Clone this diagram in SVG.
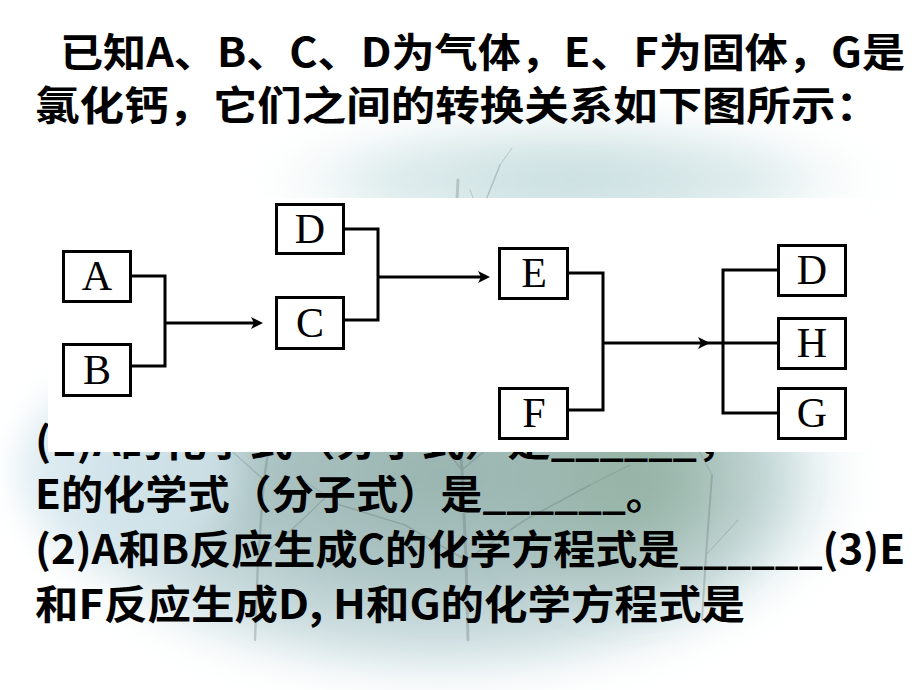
<svg xmlns="http://www.w3.org/2000/svg" width="920" height="690" viewBox="0 0 920 690">
  <defs>
    <style>
      .t { font-family: "Noto Sans CJK SC", "Noto Sans", sans-serif; font-weight: 700; font-size: 40px; fill: #000; }
      .box { fill: #fff; stroke: #000; stroke-width: 3; }
      .lbl { font-family: "Liberation Serif", serif; font-size: 42px; fill: #000; text-anchor: middle; }
      .ln { fill: none; stroke: #000; stroke-width: 3; }
      .tree { fill: none; stroke: #62706f; stroke-linecap: round; }
    </style>
    <radialGradient id="bgMain" cx="0.5" cy="0.5" r="0.5">
      <stop offset="0" stop-color="#98b3ae"/>
      <stop offset="0.45" stop-color="#adc5c5"/>
      <stop offset="0.8" stop-color="#d6e5e8"/>
      <stop offset="1" stop-color="#ffffff" stop-opacity="0"/>
    </radialGradient>
    <radialGradient id="bgTop" cx="0.5" cy="0.5" r="0.5">
      <stop offset="0" stop-color="#c6dcde"/>
      <stop offset="0.6" stop-color="#e0edee"/>
      <stop offset="1" stop-color="#ffffff" stop-opacity="0"/>
    </radialGradient>
    <radialGradient id="bgGreen" cx="0.5" cy="0.5" r="0.5">
      <stop offset="0" stop-color="#8cac99" stop-opacity="0.8"/>
      <stop offset="1" stop-color="#8cac99" stop-opacity="0"/>
    </radialGradient>
    <filter id="soft" x="-20%" y="-20%" width="140%" height="140%">
      <feGaussianBlur stdDeviation="18"/>
    </filter>
    <filter id="tb" x="-10%" y="-10%" width="120%" height="120%">
      <feGaussianBlur stdDeviation="0.7"/>
    </filter>
    <clipPath id="outsidePanel">
      <path d="M0 0 H920 V690 H0 Z M48 198 V452 H867 V198 Z" clip-rule="evenodd"/>
    </clipPath>
  </defs>

  <!-- background scene -->
  <g id="background">
    <rect x="0" y="0" width="920" height="690" fill="#ffffff"/>
    <ellipse cx="570" cy="180" rx="340" ry="75" fill="url(#bgTop)" filter="url(#soft)"/>
    <ellipse cx="440" cy="475" rx="440" ry="225" fill="url(#bgMain)" filter="url(#soft)"/>
    <ellipse cx="640" cy="480" rx="160" ry="140" fill="url(#bgGreen)" filter="url(#soft)"/>
    <ellipse cx="130" cy="470" rx="110" ry="90" fill="#d3e6ee" opacity="0.7" filter="url(#soft)"/>
    <g class="tree" opacity="0.3" filter="url(#tb)">
      <path d="M468 640 L466 560 L462 470 L456 400 L452 330 L454 260 L458 180" stroke-width="3"/>
      <path d="M462 470 L425 425 L390 395 M456 400 L418 355 M452 330 L425 285 L405 245 M454 260 L480 215 L500 165 M462 470 L515 425 L555 385 M466 560 L525 520 L590 485 M466 560 L405 525 L340 505" stroke-width="1.6"/>
      <path d="M390 395 L360 372 M418 355 L390 325 M425 285 L442 235 M500 165 L512 148 M555 385 L585 355 M590 485 L630 465 M340 505 L300 478 M515 425 L528 388 M405 245 L392 222 M480 215 L470 190" stroke-width="1"/>
      <path d="M255 640 L258 560 L264 480 L272 425" stroke-width="2.4"/>
      <path d="M264 480 L225 445 L195 425 M258 560 L300 522 L328 495 M272 425 L290 388" stroke-width="1.2"/>
      <path d="M702 620 L706 555 L712 475" stroke-width="2"/>
      <path d="M706 555 L738 520 M712 475 L692 438" stroke-width="1"/>
    </g>
  </g>

  <!-- text -->
  <g id="text">
    <text class="t" x="60" y="67" textLength="845" lengthAdjust="spacingAndGlyphs">已知A、B、C、D为气体，E、F为固体，G是</text>
    <text class="t" x="35" y="120" textLength="845" lengthAdjust="spacingAndGlyphs">氯化钙，它们之间的转换关系如下图所示：</text>
    <text class="t" x="35" y="456" textLength="705" lengthAdjust="spacingAndGlyphs" clip-path="url(#outsidePanel)">(1)A的化学式（分子式）是______，</text>
    <text class="t" x="35" y="509" textLength="633" lengthAdjust="spacingAndGlyphs">E的化学式（分子式）是______。</text>
    <text class="t" x="35" y="564" textLength="870" lengthAdjust="spacingAndGlyphs">(2)A和B反应生成C的化学方程式是______(3)E</text>
    <text class="t" x="35" y="619" textLength="710" lengthAdjust="spacingAndGlyphs">和F反应生成D, H和G的化学方程式是</text>
  </g>

  <!-- white panel for the diagram -->
  <rect id="panel" x="48" y="198" width="819" height="254" fill="#ffffff"/>

  <g id="connectors">
    <path class="ln" d="M132 276 H165 V366 H132"/>
    <path class="ln" d="M165 323 H256"/>
    <path d="M263 323 L251 317 L254 323 L251 329 Z" fill="#000"/>
    <path class="ln" d="M345 229 H378 V320 H345"/>
    <path class="ln" d="M378 277 H483"/>
    <path d="M490 277 L478 271 L481 277 L478 283 Z" fill="#000"/>
    <path class="ln" d="M569 273 H603 V410 H569"/>
    <path class="ln" d="M603 343 H777"/>
    <path d="M710 343 L698 337 L701 343 L698 349 Z" fill="#000"/>
    <path class="ln" d="M777 270 H723 V413 H777"/>
  </g>

  <g id="node-A"><rect class="box" x="63.5" y="251.5" width="67" height="50"/><text class="lbl" x="97" y="290">A</text></g>
  <g id="node-B"><rect class="box" x="63.5" y="344.5" width="67" height="51"/><text class="lbl" x="97" y="384">B</text></g>
  <g id="node-C"><rect class="box" x="276.5" y="297.5" width="67" height="51"/><text class="lbl" x="310" y="337">C</text></g>
  <g id="node-D1"><rect class="box" x="276.5" y="204.5" width="67" height="49"/><text class="lbl" x="310" y="243">D</text></g>
  <g id="node-E"><rect class="box" x="499.5" y="248.5" width="68" height="50"/><text class="lbl" x="534" y="287">E</text></g>
  <g id="node-F"><rect class="box" x="499.5" y="388.5" width="68" height="50"/><text class="lbl" x="534" y="427">F</text></g>
  <g id="node-D2"><rect class="box" x="778.5" y="245.5" width="67" height="50"/><text class="lbl" x="812" y="284">D</text></g>
  <g id="node-H"><rect class="box" x="778.5" y="318.5" width="67" height="50"/><text class="lbl" x="812" y="357">H</text></g>
  <g id="node-G"><rect class="box" x="778.5" y="388.5" width="67" height="50"/><text class="lbl" x="812" y="427">G</text></g>
</svg>
